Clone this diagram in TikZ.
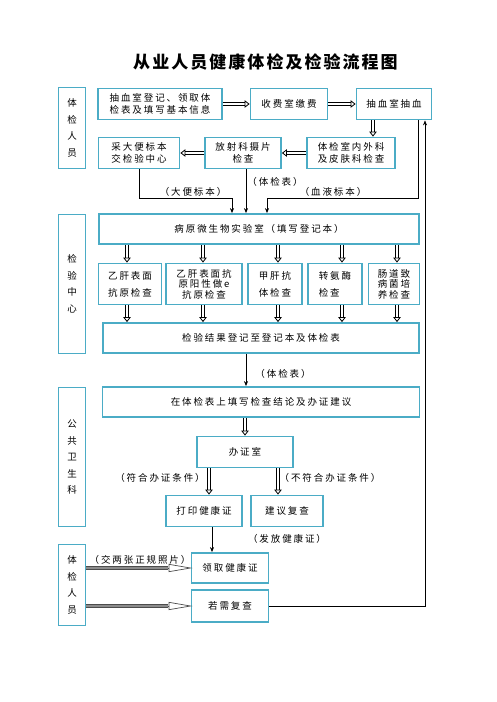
\documentclass[tikz,border=0pt]{standalone}
\usepackage{fontspec}
\usepackage{tikz}
\usetikzlibrary{arrows.meta,calc}
\newfontfamily\cjk[LetterSpace=20]{Noto Sans CJK SC}
\newfontfamily\cjkrong[LetterSpace=12]{Noto Sans CJK SC}
\definecolor{khungxanh}{HTML}{4BACC6}

\begin{document}
\begin{tikzpicture}[x=1pt,y=-1pt,
	every node/.style={font=\cjk\fontsize{9.5}{12}\selectfont, inner sep=0pt},
	khung/.style={draw=khungxanh, line width=1.8pt, align=center},
	cot/.style={khung, minimum width=27pt, font=\cjk\fontsize{9.5}{16.5}\selectfont},
	muiten/.style={-{Stealth[length=5pt,width=4pt]}, line width=0.6pt},
	muidoi/.style={double, double distance=2pt, line width=1pt, -{Triangle[open, length=5pt, width=7.5pt, line width=0.8pt]}},
	thanhxam/.style={draw=black!70, double=black!45, double distance=1.6pt, line width=0.8pt},
	muixam/.style={draw=black!70, line width=0.7pt, -{Triangle[open,length=24pt,width=8pt]}}]
			\useasboundingbox (0,0) rectangle (496,702);
			\node[font=\cjkrong\bfseries\fontsize{17}{20}\selectfont] (tieude) at (265.5,62) {从业人员健康体检及检验流程图};
			% ben trai
			\node[cot, minimum height=81pt] (ca) at (72,128) {体\\检\\人\\员};
			\node[cot, minimum height=139pt] (cb) at (72,284) {检\\验\\中\\心};
			\node[cot, minimum height=139pt] (cc) at (72,457) {公\\共\\卫\\生\\科};
			\node[cot, minimum height=81pt] (cd) at (72,585) {体\\检\\人\\员};
			% hang 1, 2
			\node[khung, minimum width=124pt, minimum height=31pt] (a) at (160,104) {抽血室登记、领取体\\检表及填写基本信息};
			\node[khung, minimum width=77pt, minimum height=31pt] (b) at (289,104) {收费室缴费};
			\node[khung, minimum width=75pt, minimum height=31pt] (c) at (394,104) {抽血室抽血};
			\node[khung, minimum width=81pt, minimum height=31pt] (d) at (139,153) {采大便标本\\交检验中心};
			\node[khung, minimum width=76pt, minimum height=31pt] (e) at (243,153) {放射科摄片\\检查};
			\node[khung, minimum width=88pt, minimum height=31pt] (f) at (351,153) {体检室内外科\\及皮肤科检查};
			\draw[muidoi] (a.east) -- (b.west);
			\draw[muidoi] (b.east) -- (c.west);
			\draw[muidoi] ([xshift=-21pt]c.south) -- ([xshift=-21pt]c.south |- f.north);
			\draw[muidoi] (f.west) -- (e.east);
			\draw[muidoi] (e.west) -- (d.east);
			% kiem nghiem
			\node[khung, minimum width=320pt, minimum height=30pt] (g) at (259,229) {病原微生物实验室（填写登记本）};
			\coordinate (n1) at (232,198);
			\coordinate (n2) at (267,198);
			\draw[muiten] (d.south) |- (n1) -- (n1 |- g.north);
			\draw[muiten] ([xshift=3pt]e.south) -- ([xshift=3pt]e.south |- g.north);
			\draw[muiten] ([xshift=24pt]c.south) |- (n2) -- (n2 |- g.north);
			\node (l1) at (193,192) {（大便标本）};
			\node (l2) at (275,182) {（体检表）};
			\node (l3) at (333,192) {（血液标本）};
			\node[khung, minimum width=63pt, minimum height=41pt] (h1) at (130,284) {乙肝表面\\[5pt]抗原检查};
			\node[khung, minimum width=76pt, minimum height=41pt, font=\cjk\fontsize{9.5}{10.5}\selectfont] (h2) at (204,284) {乙肝表面抗\\原阳性做e\\抗原检查};
			\node[khung, minimum width=54pt, minimum height=41pt, align=left] (h3) at (275,284) {甲肝抗\\[5pt]体检查};
			\node[khung, minimum width=54pt, minimum height=41pt, align=left] (h4) at (335,284) {转氨酶\\[5pt]检查};
			\node[khung, minimum width=51pt, minimum height=41pt, font=\cjk\fontsize{9.5}{10.5}\selectfont] (h5) at (394,284) {肠道致\\病菌培\\养检查};
			\node[khung, minimum width=316pt, minimum height=30pt] (i) at (261,338) {检验结果登记至登记本及体检表};
			\draw[muidoi] ([xshift=-3pt]h1.north |- g.south) -- ([xshift=-3pt]h1.north);
			\draw[muidoi] ([xshift=-1pt]h2.north |- g.south) -- ([xshift=-1pt]h2.north);
			\draw[muidoi] ([xshift=3pt]h3.north |- g.south) -- ([xshift=3pt]h3.north);
			\draw[muidoi] ([xshift=7pt]h4.north |- g.south) -- ([xshift=7pt]h4.north);
			\draw[muidoi] ([xshift=3pt]h5.north |- g.south) -- ([xshift=3pt]h5.north);
			\draw[muidoi] ([xshift=-3pt]h1.south) -- ([xshift=-3pt]h1.south |- i.north);
			\draw[muidoi] ([xshift=-1pt]h2.south) -- ([xshift=-1pt]h2.south |- i.north);
			\draw[muidoi] ([xshift=3pt]h3.south) -- ([xshift=3pt]h3.south |- i.north);
			\draw[muidoi] ([xshift=7pt]h4.south) -- ([xshift=7pt]h4.south |- i.north);
			\draw[muidoi] ([xshift=3pt]h5.south) -- ([xshift=3pt]h5.south |- i.north);
			% ve sinh cong cong
			\node[khung, minimum width=317pt, minimum height=30pt] (j) at (261,402) {在体检表上填写检查结论及办证建议};
			\draw[muiten] (i.south -| 246,0) -- (j.north -| 246,0);
			\node (l4) at (283,374) {（体检表）};
			\node[khung, minimum width=96pt, minimum height=31pt] (k) at (245,452) {办证室};
			\draw[muidoi] (j.south -| k) -- (k.north);
			\node[khung, minimum width=76pt, minimum height=31pt] (l) at (204,511) {打印健康证};
			\node[khung, minimum width=72pt, minimum height=31pt] (m) at (287,511) {建议复查};
			\draw[muidoi] ([xshift=-36pt]k.south) -- ([xshift=-36pt]k.south |- l.north);
			\draw[muidoi] ([xshift=33pt]k.south) -- ([xshift=33pt]k.south |- m.north);
			\node (l5) at (160,478) {（符合办证条件）};
			\node (l6) at (330,478) {（不符合办证条件）};
			% nhan giay
			\node[khung, minimum width=77pt, minimum height=30pt] (n) at (230,568) {领取健康证};
			\node[khung, minimum width=77pt, minimum height=32pt] (o) at (230,606) {若需复查};
			\draw[muiten] ([xshift=8pt]l.south) -- ([xshift=8pt]l.south |- n.north);
			\node (l7) at (287,539) {（发放健康证）};
			\node (l8) at (140,560) {（交两张正规照片）};
			\draw[muixam] (cd.east |- n) -- ([xshift=2pt]n.west);
			\draw[thanhxam] (cd.east |- n) -- ([xshift=-23pt]n.west);
			\draw[muixam] (cd.east |- o) -- ([xshift=2pt]o.west);
			\draw[thanhxam] (cd.east |- o) -- ([xshift=-23pt]o.west);
			\draw[muiten] (o.east) -| ([xshift=31pt]c.south);
		\end{tikzpicture}
\end{document}
